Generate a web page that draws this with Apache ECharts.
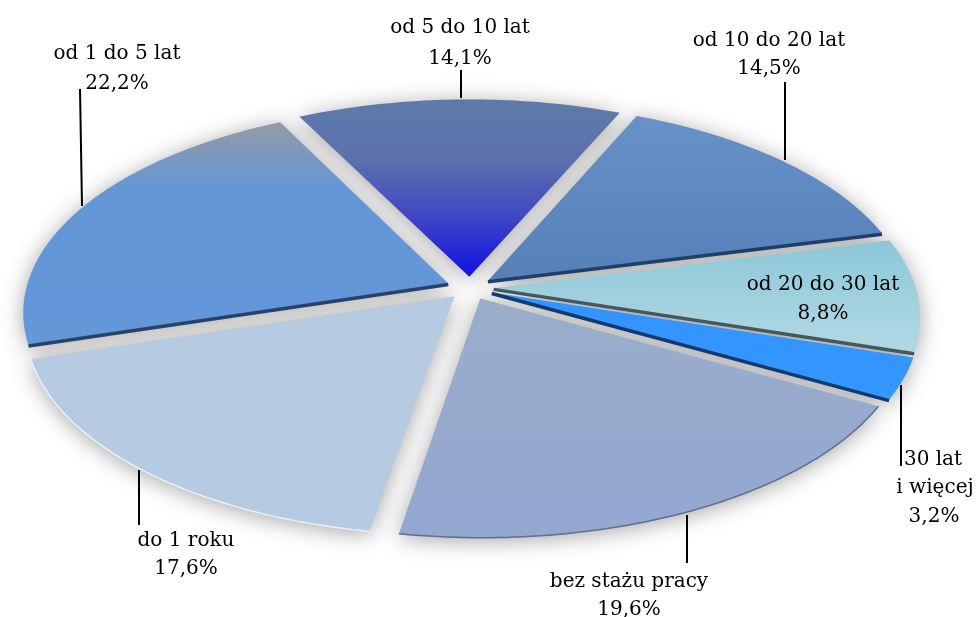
<!DOCTYPE html>
<html>
<head>
<meta charset="utf-8">
<style>
html, body { margin: 0; padding: 0; background: #fff; }
#chart { width: 978px; height: 617px; }
</style>
<script src="https://cdn.jsdelivr.net/npm/echarts@6/dist/echarts.min.js"></script>
</head>
<body>
<div id="chart"></div>
<script>
// slices, clockwise from "od 5 do 10 lat"
var names = ['od 5 do 10 lat', 'od 10 do 20 lat', 'od 20 do 30 lat', '30 lat', 'bez stażu pracy', 'do 1 roku', 'od 1 do 5 lat'];
var values = [14.1, 14.5, 8.8, 3.2, 19.6, 17.6, 22.2];

var fills = [
    [[0, '#5f7aa8'], [0.35, '#5a70ae'], [0.65, '#3f48c4'], [1, '#1212e2']],
    [[0, '#6692c8'], [1, '#5580b8']],
    [[0, '#8cc7d8'], [1, '#b2d9e3']],
    [[0, '#3393ff'], [1, '#3397ff']],
    [[0, '#9aadca'], [1, '#93a7d1']],
    [[0, '#b6cae1'], [1, '#b6cae3']],
    [[0, '#939ba5'], [0.3, '#6496d6'], [1, '#6397d9']]
];
var edges = [null, '#1f3f68', '#46585c', '#0e3a70', null, null, '#274468'];
var rims = [null, null, null, null, '#5f6f8f', '#e4f2fb', null];

// projection of the tilted disc
var CX = 470, CY = 288, RX = 422, RY = 204, PERSP = 0.135, EXPLODE = 0.056;
var START = -27;

function project(u, v) {
    var s = 1 / (1 - PERSP * v);
    return [CX + RX * u * s, CY + RY * v * s];
}

function sliceGeom(idx) {
    var total = 0, before = 0;
    for (var i = 0; i < values.length; i++) {
        if (i < idx) before += values[i];
        total += values[i];
    }
    var a0 = START + before / total * 360;
    var a1 = a0 + values[idx] / total * 360;
    var mid = (a0 + a1) / 2 * Math.PI / 180;
    var ox = Math.sin(mid) * EXPLODE, oy = -Math.cos(mid) * EXPLODE;
    var arc = [];
    for (var a = a0; a < a1; a += 1) {
        var r = a * Math.PI / 180;
        arc.push(project(ox + Math.sin(r), oy - Math.cos(r)));
    }
    var e = a1 * Math.PI / 180;
    arc.push(project(ox + Math.sin(e), oy - Math.cos(e)));
    return { apex: project(ox, oy), arc: arc };
}

function renderShadow(params, api) {
    var g = sliceGeom(api.value(1));
    return {
        type: 'polygon',
        shape: { points: [g.apex].concat(g.arc) },
        style: { fill: '#c8c8c8', shadowBlur: 22, shadowColor: 'rgba(0,0,0,0.36)', shadowOffsetY: 3 }
    };
}

function renderSlice(params, api) {
    var i = api.value(1);
    var g = sliceGeom(i);
    var children = [{
        type: 'polygon',
        shape: { points: [g.apex].concat(g.arc) },
        style: { fill: new echarts.graphic.LinearGradient(0, 0, 0, 1, fills[i].map(function (c) {
            return { offset: c[0], color: c[1] };
        })) }
    }];
    if (rims[i]) {
        children.push({
            type: 'polyline',
            shape: { points: g.arc },
            style: { fill: null, stroke: rims[i], lineWidth: 1.5 }
        });
    }
    if (edges[i]) {
        // the dark side is on the lower straight edge of the slice
        var end = i === 6 ? g.arc[0] : g.arc[g.arc.length - 1];
        children.push({
            type: 'line',
            shape: { x1: g.apex[0], y1: g.apex[1] + 1, x2: end[0], y2: end[1] + 1 },
            style: { stroke: edges[i], lineWidth: 3.5 }
        });
    }
    return { type: 'group', children: children };
}

var seriesData = values.map(function (v, i) { return [v, i]; });

var textStyle = { fontFamily: '"DejaVu Serif", serif', fontSize: 20, fill: '#000', align: 'center', verticalAlign: 'middle' };

function txt(text, x, y) {
    return { type: 'text', x: x, y: y, z: 10, style: Object.assign({ text: text }, textStyle) };
}
function leader(x1, y1, x2, y2) {
    return { type: 'line', z: 10, shape: { x1: x1, y1: y1, x2: x2, y2: y2 }, style: { stroke: '#000', lineWidth: 2 } };
}

var labels = [
    txt(names[6], 117, 54), txt('22,2%', 117, 84),
    txt(names[0], 460, 28), txt('14,1%', 460, 59),
    txt(names[1], 769, 41), txt('14,5%', 769, 69),
    txt(names[2], 823, 285), txt('8,8%', 823, 314),
    txt(names[3], 933, 460), txt('i więcej', 935, 488), txt('3,2%', 934, 517),
    txt(names[4], 629, 582), txt('19,6%', 629, 610),
    txt(names[5], 186, 541), txt('17,6%', 186, 569),
    leader(80, 89, 82, 206),
    leader(461, 70, 461, 98),
    leader(785, 82, 785, 160),
    leader(901, 385, 901, 466),
    leader(687, 515, 687, 563),
    leader(139, 470, 139, 525)
];

var myChart = echarts.init(document.getElementById('chart'));
myChart.setOption({
    animation: false,
    backgroundColor: '#fff',
    series: [
        { type: 'custom', coordinateSystem: 'none', z: 1, renderItem: renderShadow, data: seriesData, silent: true },
        { type: 'custom', coordinateSystem: 'none', z: 2, renderItem: renderSlice, data: seriesData, silent: true }
    ],
    graphic: labels
});
</script>
</body>
</html>
